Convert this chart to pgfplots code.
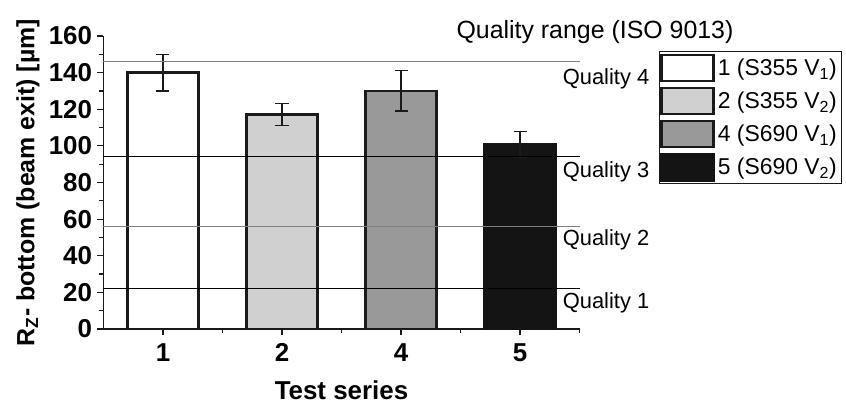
\documentclass[border=0pt]{standalone}
\usepackage{fontspec}
\setmainfont{Liberation Sans}
\usepackage{pgfplots}
\pgfplotsset{compat=1.18}
\definecolor{edge}{HTML}{1A1A1A}
\definecolor{lg}{HTML}{D0D0D0}
\definecolor{mg}{HTML}{999999}
\definecolor{dk}{HTML}{141414}
\definecolor{gl}{HTML}{808080}
\begin{document}
\begin{tikzpicture}[x=1bp,y=1bp]
\begin{axis}[
  scale only axis, width=476bp, height=293bp,
  xmin=0.5, xmax=4.5, ymin=0, ymax=160,
  axis x line=bottom, axis y line=left,
  axis line style={-, line width=1.5bp, color=edge},
  xtick={1,2,3,4}, xticklabels={1,2,4,5},
  minor xtick={1.5,2.5,3.5,4.5},
  ytick={0,20,...,160}, minor ytick={10,30,...,150},
  tick align=outside,
  major tick length=6bp, minor tick length=4bp,
  tick style={line width=1.2bp, color=edge},
  /pgf/number format/assume math mode=true,
  ticklabel style={font=\fontsize{26}{28}\selectfont\bfseries},
  xticklabel style={yshift=-5bp},
  yticklabel style={xshift=-2bp},
  xlabel={Test series},
  ylabel={R\textsubscript{Z}- bottom (beam exit) [µm]},
  xlabel style={font=\fontsize{26}{28}\selectfont\bfseries, at={(axis description cs:0.5,0)}, anchor=center, yshift=-61bp},
  ylabel style={font=\fontsize{25}{28}\selectfont\bfseries, at={(axis description cs:0,0.5)}, anchor=center, yshift=75.5bp},
  clip=false,
  ybar, bar width=0.6, bar shift=0pt,
  error bars/y dir=both, error bars/y explicit,
  error bars/error mark options={rotate=90, mark size=6.5bp, line width=1.3bp, color=edge},
  error bars/error bar style={line width=1.3bp, color=edge},
  legend cell align=left,
  legend style={at={(1.166,0.948)}, anchor=north west, draw=edge, line width=0.8bp,
    font=\fontsize{23}{25}\selectfont, inner xsep=1.5bp, inner ysep=2bp,
    row sep=4.5bp, nodes={inner xsep=2.8bp, inner ysep=1bp}},
  legend image code/.code={\draw[#1] (0bp,-13bp) rectangle (52bp,13bp);},
]
\addplot[draw=edge, fill=white, line width=2.6bp] coordinates {(1,140) +- (0,10)};
\addlegendentry{1 (S355 V\textsubscript{1})}
\addplot[draw=edge, fill=lg, line width=2.6bp] coordinates {(2,117) +- (0,6)};
\addlegendentry{2 (S355 V\textsubscript{2})}
\addplot[draw=edge, fill=mg, line width=2.6bp] coordinates {(3,130) +- (0,11)};
\addlegendentry{4 (S690 V\textsubscript{1})}
\addplot[draw=dk, fill=dk, line width=2.6bp] coordinates {(4,101) +- (0,7)};
\addlegendentry{5 (S690 V\textsubscript{2})}
\addplot[sharp plot, no marks, gl, line width=1bp, forget plot, error bars/y dir=none] coordinates {(0.5,146) (4.5,146)};
\addplot[sharp plot, no marks, black, line width=0.9bp, forget plot, error bars/y dir=none] coordinates {(0.5,94) (4.5,94)};
\addplot[sharp plot, no marks, gl, line width=1bp, forget plot, error bars/y dir=none] coordinates {(0.5,56) (4.5,56)};
\addplot[sharp plot, no marks, black, line width=0.9bp, forget plot, error bars/y dir=none] coordinates {(0.5,22) (4.5,22)};
\node[anchor=west, font=\fontsize{22}{24}\selectfont] at (axis cs:4.33,136.6) {Quality 4};
\node[anchor=west, font=\fontsize{22}{24}\selectfont] at (axis cs:4.33,85.8) {Quality 3};
\node[anchor=west, font=\fontsize{22}{24}\selectfont] at (axis cs:4.33,48.6) {Quality 2};
\node[anchor=west, font=\fontsize{22}{24}\selectfont] at (axis cs:4.33,14.2) {Quality 1};
\node[font=\fontsize{25}{28}\selectfont] at (axis cs:4.63,162.3) {Quality range (ISO 9013)};
\end{axis}
\pgfresetboundingbox
\path (-103.5bp,-75bp) rectangle (742.5bp,329bp);
\end{tikzpicture}
\end{document}
